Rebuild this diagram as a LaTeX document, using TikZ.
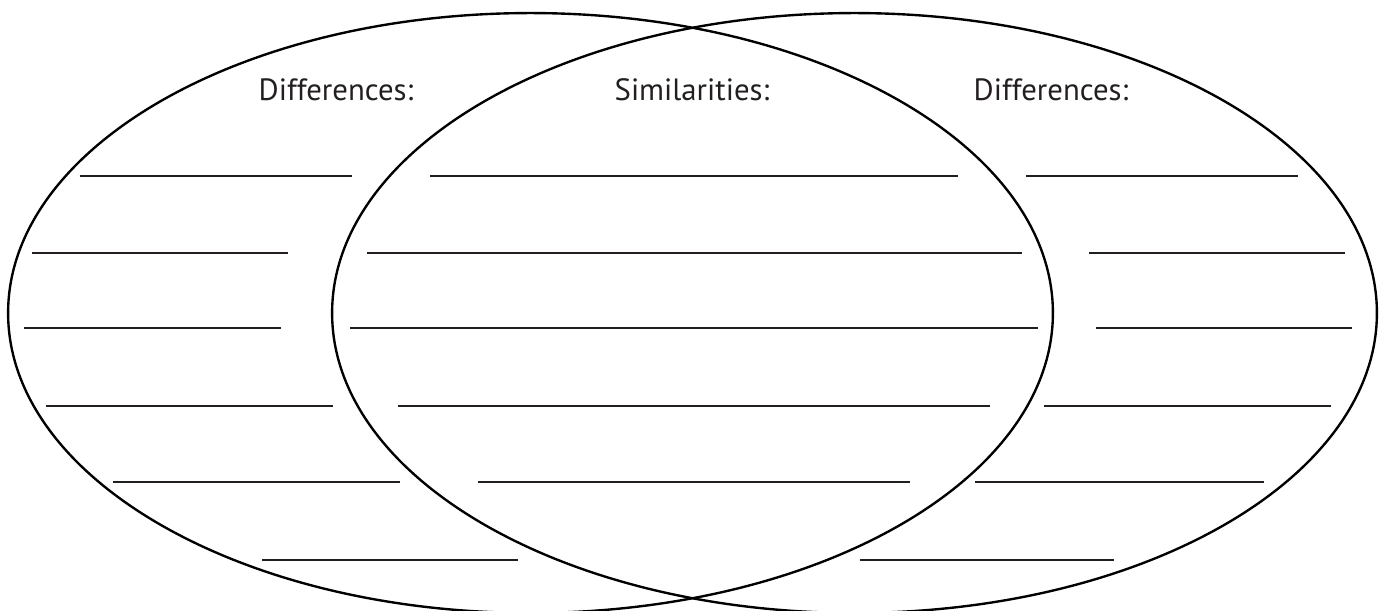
\documentclass[tikz,border=0pt]{standalone}
\usepackage{fontspec}
\setmainfont{PT Sans}
\usepackage{tikz}
\definecolor{cink}{HTML}{231F20}
\tikzset{
  venn/.style={draw=black, line width=1.35pt},
  blank/.style={draw=cink, line width=0.7pt},
  heading/.style={text=cink, font=\fontsize{17.5}{20}\selectfont, inner sep=0pt}
}

\begin{document}
\begin{tikzpicture}[x=0.02cm, y=-0.02cm]
  \useasboundingbox (0,0) rectangle (1388,611);
  % the two circles of the diagram
  \draw[venn] (530.5,313) ellipse [x radius=10.45cm, y radius=6cm];
  \draw[venn] (854.5,313) ellipse [x radius=10.45cm, y radius=6cm];
  % headings
  \node[heading] (diffleft) at (336,90) {Differences:};
  \node[heading] (simmid) at (692,90) {Similarities:};
  \node[heading] (diffright) at (1051,90) {Differences:};
  % blanks, left part
  \draw[blank] (80,176) -- (352,176);
  \draw[blank] (32,253) -- (288,253);
  \draw[blank] (24,328) -- (281,328);
  \draw[blank] (46,406) -- (333,406);
  \draw[blank] (113,482) -- (400,482);
  \draw[blank] (262,560) -- (518,560);
  % blanks, middle part
  \draw[blank] (430,176) -- (958,176);
  \draw[blank] (367,253) -- (1022,253);
  \draw[blank] (350,328) -- (1038,328);
  \draw[blank] (398,406) -- (990,406);
  \draw[blank] (478,482) -- (910,482);
  % blanks, right part
  \draw[blank] (1026,176) -- (1298,176);
  \draw[blank] (1089,253) -- (1345,253);
  \draw[blank] (1096,328) -- (1352,328);
  \draw[blank] (1044,406) -- (1331,406);
  \draw[blank] (975,482) -- (1264,482);
  \draw[blank] (860,560) -- (1114,560);
\end{tikzpicture}
\end{document}
